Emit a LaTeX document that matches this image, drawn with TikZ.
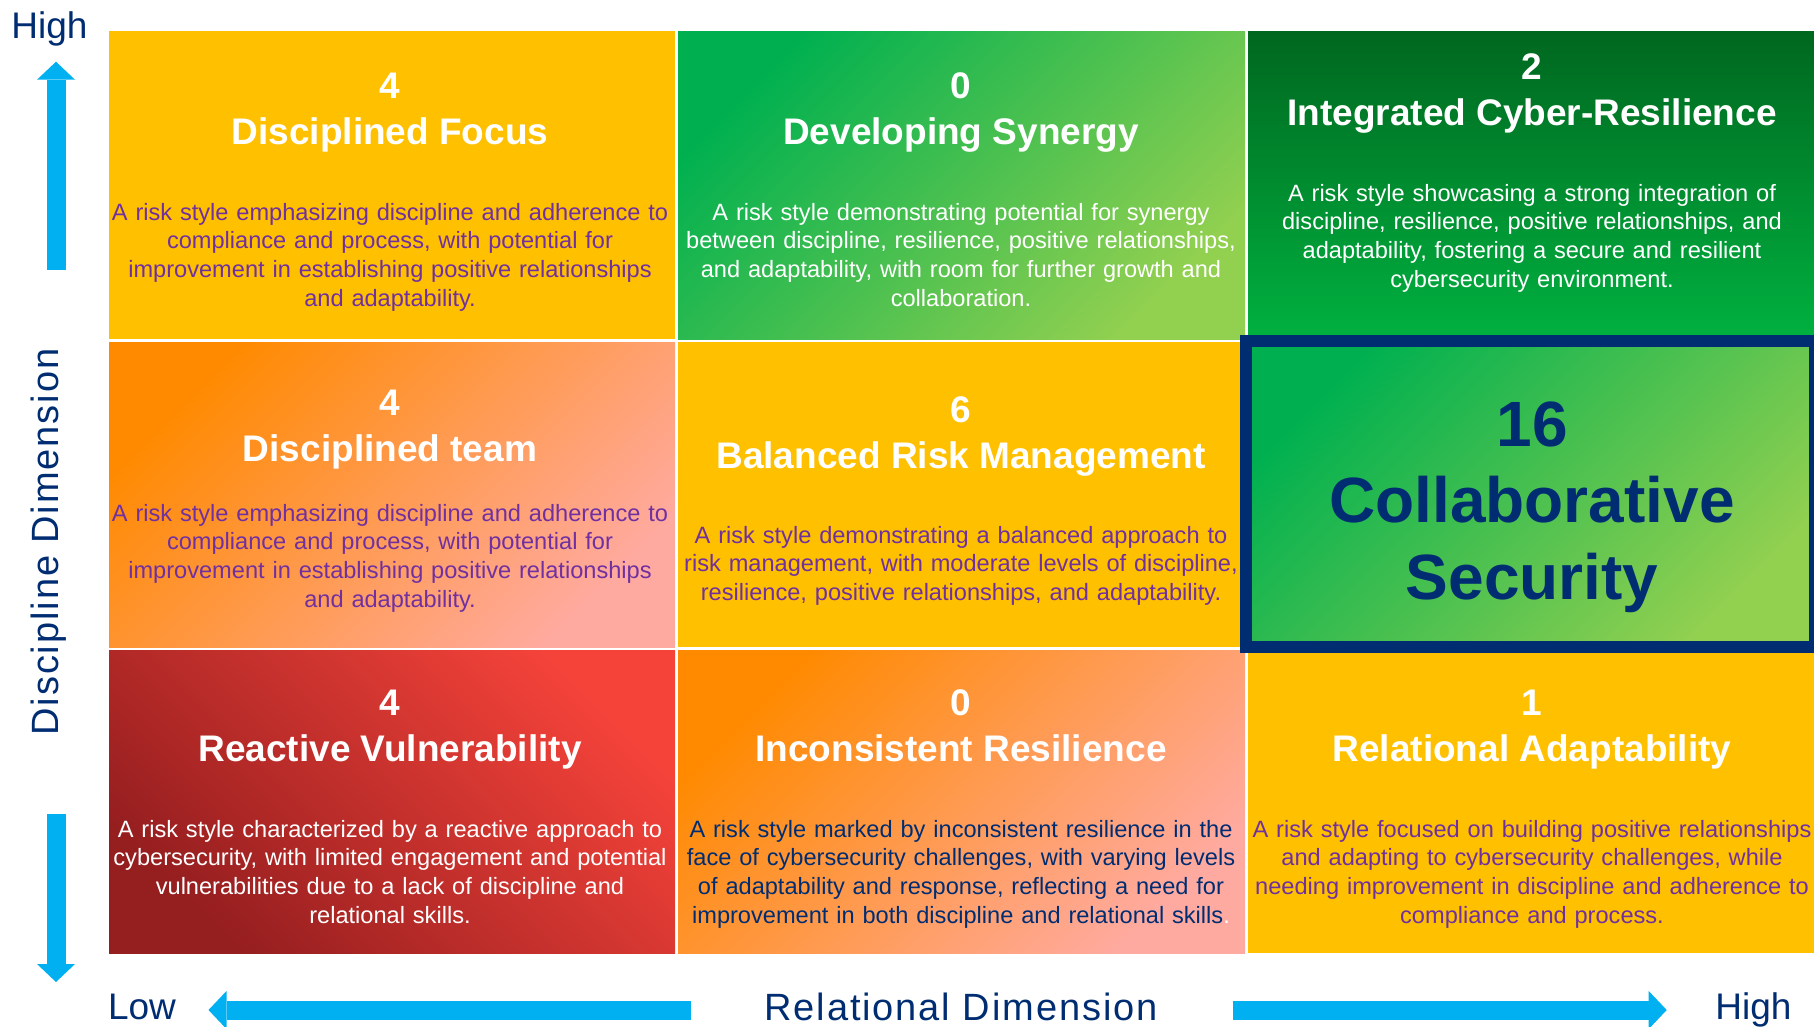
\documentclass[tikz,border=0pt]{standalone}
\usepackage{fontspec}
\setmainfont{Liberation Sans}
\newfontfamily\axisfont[LetterSpace=5]{Liberation Sans}
\usetikzlibrary{arrows.meta}

\definecolor{amber}{HTML}{FFC000}
\definecolor{leafdark}{HTML}{00B050}
\definecolor{leaflight}{HTML}{92D050}
\definecolor{forestdark}{HTML}{00671F}
\definecolor{forestlight}{HTML}{00B140}
\definecolor{tangerine}{HTML}{FF8A00}
\definecolor{salmon}{HTML}{FFAAA0}
\definecolor{brightred}{HTML}{F5433A}
\definecolor{darkred}{HTML}{951E1F}
\definecolor{navy}{HTML}{002D72}
\definecolor{plum}{HTML}{7030A0}
\definecolor{skyblue}{HTML}{00B0F0}

\tikzset{
    numlabel/.style={anchor=base, inner sep=0pt, text=white, font=\bfseries\fontsize{37}{44}\selectfont},
    titlelabel/.style={numlabel},
    desclabel/.style={anchor=base, inner sep=0pt, text width=620pt, align=center, font=\fontsize{23.6}{28.7}\selectfont},
    biglabel/.style={anchor=base, inner sep=0pt, text=navy, font=\bfseries\fontsize{64}{77}\selectfont},
    axislabel/.style={anchor=base, inner sep=0pt, text=navy, font=\axisfont\fontsize{38}{40}\selectfont},
    endlabel/.style={anchor=base, inner sep=0pt, text=navy, font=\fontsize{37}{40}\selectfont},
    axisarrow/.style={draw=skyblue, line width=19pt, -{Triangle[length=18pt, width=38pt, line width=0pt]}}
}

\begin{document}
\begin{tikzpicture}[x=1pt, y=-1pt]

        \useasboundingbox (0,0) rectangle (1814,1026);
        \fill[white] (0,0) rectangle (1814,1026);

        % -----------------------------------------------------------------
        % CELLS
        % -----------------------------------------------------------------
        % row 1
        \fill[amber] (109,31) rectangle (675,339);
        \shade[top color=leafdark, bottom color=leaflight, shading angle=45] (678,31) rectangle (1245,339);
        \shade[top color=forestdark, bottom color=forestlight] (1248,31) rectangle (1814,339);

        % row 2
        \shade[top color=tangerine, bottom color=salmon, shading angle=45] (109,342) rectangle (675,647);
        \fill[amber] (678,342) rectangle (1245,647);

        % row 3
        \shade[top color=brightred, bottom color=darkred, shading angle=-45] (109,650) rectangle (675,953);
        \shade[top color=tangerine, bottom color=salmon, shading angle=45] (678,650) rectangle (1245,953);
        \fill[amber] (1248,650) rectangle (1814,953);

        % highlighted cell
        \shade[top color=leafdark, bottom color=leaflight, shading angle=45] (1246,341) rectangle (1814,647);
        \draw[navy, line width=12pt] (1246,341) rectangle (1815,647);

        % -----------------------------------------------------------------
        % CELL TEXTS
        % -----------------------------------------------------------------
        \node[numlabel] (df-num) at (390,98) {4};
        \node[titlelabel] (df-title) at (390,144) {Disciplined Focus};
        \node[desclabel, text=plum] (df-desc) at (390,220) {A risk style emphasizing discipline and adherence to\\ compliance and process, with potential for\\ improvement in establishing positive relationships\\ and adaptability.};

        \node[numlabel] (ds-num) at (961,98) {0};
        \node[titlelabel] (ds-title) at (961,144) {Developing Synergy};
        \node[desclabel, text=white] (ds-desc) at (961,220) {A risk style demonstrating potential for synergy\\ between discipline, resilience, positive relationships,\\ and adaptability, with room for further growth and\\ collaboration.};

        \node[numlabel] (icr-num) at (1532,79) {2};
        \node[titlelabel] (icr-title) at (1532,125) {Integrated Cyber-Resilience};
        \node[desclabel, text=white] (icr-desc) at (1532,201) {A risk style showcasing a strong integration of\\ discipline, resilience, positive relationships, and\\ adaptability, fostering a secure and resilient\\ cybersecurity environment.};

        \node[numlabel] (dt-num) at (390,415) {4};
        \node[titlelabel] (dt-title) at (390,461) {Disciplined team};
        \node[desclabel, text=plum] (dt-desc) at (390,521) {A risk style emphasizing discipline and adherence to\\ compliance and process, with potential for\\ improvement in establishing positive relationships\\ and adaptability.};

        \node[numlabel] (brm-num) at (961,422) {6};
        \node[titlelabel] (brm-title) at (961,468) {Balanced Risk Management};
        \node[desclabel, text=plum] (brm-desc) at (961,543) {A risk style demonstrating a balanced approach to\\ risk management, with moderate levels of discipline,\\ resilience, positive relationships, and adaptability.};

        \node[biglabel] (cs-num) at (1532,446) {16};
        \node[biglabel] (cs-title) at (1532,522) {Collaborative};
        \node[biglabel] (cs-title2) at (1532,599) {Security};

        \node[numlabel] (rv-num) at (390,715) {4};
        \node[titlelabel] (rv-title) at (390,761) {Reactive Vulnerability};
        \node[desclabel, text=white] (rv-desc) at (390,837) {A risk style characterized by a reactive approach to\\ cybersecurity, with limited engagement and potential\\ vulnerabilities due to a lack of discipline and\\ relational skills.};

        \node[numlabel] (ir-num) at (961,715) {0};
        \node[titlelabel] (ir-title) at (961,761) {Inconsistent Resilience};
        \node[desclabel, text=navy] (ir-desc) at (961,837) {A risk style marked by inconsistent resilience in the\\ face of cybersecurity challenges, with varying levels\\ of adaptability and response, reflecting a need for\\ improvement in both discipline and relational skills{\color{white}.}};

        \node[numlabel] (ra-num) at (1532,715) {1};
        \node[titlelabel] (ra-title) at (1532,761) {Relational Adaptability};
        \node[desclabel, text=plum] (ra-desc) at (1532,837) {A risk style focused on building positive relationships\\ and adapting to cybersecurity challenges, while\\ needing improvement in discipline and adherence to\\ compliance and process.};

        % -----------------------------------------------------------------
        % AXES
        % -----------------------------------------------------------------
        \coordinate (up-tail) at (56,270);
        \coordinate (up-tip) at (56,61.7);
        \coordinate (down-tail) at (56,814);
        \coordinate (down-tip) at (56,982);
        \coordinate (left-tail) at (691,1010);
        \coordinate (left-tip) at (208.5,1010);
        \coordinate (right-tail) at (1232.6,1010);
        \coordinate (right-tip) at (1666.7,1010);

        \draw[axisarrow] (up-tail) -- (up-tip);
        \draw[axisarrow] (down-tail) -- (down-tip);
        \draw[axisarrow] (left-tail) -- (left-tip);
        \draw[axisarrow] (right-tail) -- (right-tip);

        \node[endlabel] (y-high) at (49.5,38) {High};
        \node[axislabel, rotate=90] (y-name) at (58,542) {Discipline Dimension};
        \node[endlabel] (x-low) at (142,1019) {Low};
        \node[axislabel] (x-name) at (961,1020) {Relational Dimension};
        \node[endlabel] (x-high) at (1753.5,1019) {High};

    \end{tikzpicture}
\end{document}
